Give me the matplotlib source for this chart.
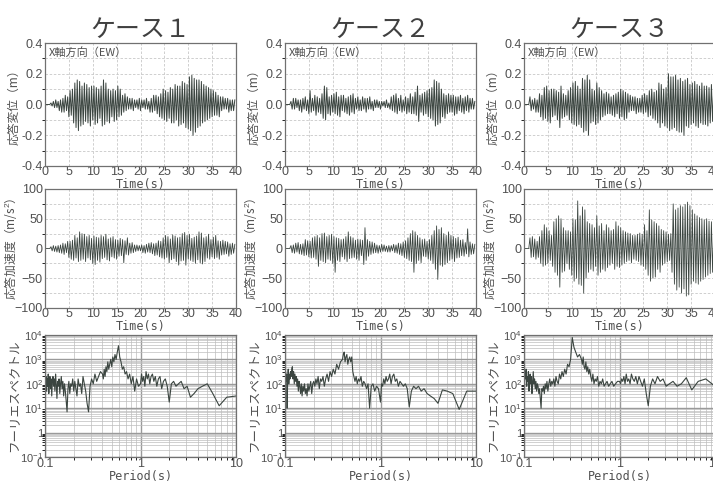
import numpy as np
import matplotlib
matplotlib.use("Agg")
import matplotlib.pyplot as plt
from matplotlib.ticker import MultipleLocator, LogLocator, NullFormatter

plt.rcParams['font.family'] = ['Liberation Sans', 'DejaVu Sans']
plt.rcParams['mathtext.fontset'] = 'custom'
plt.rcParams['mathtext.rm'] = 'Liberation Sans'
plt.rcParams['mathtext.it'] = 'Liberation Sans'
JP = ['Noto Sans CJK JP', 'DejaVu Sans']

# ---- data ----
dt = 0.25  # s, spacing of the read-off peaks

case_titles = ['ケース１', 'ケース２', 'ケース３']

# response displacement, cm
disp1 = [0, 0, 0, 0, 0, 1, -1, 2, -2, 3, -2, 2, -4, 3, -5, 4, -5, 6, -4, 5,
         -8, 9, -7, 10, -12, 14, -15, 16, -17, 15, -14, 12, -13, 14, -11, 13, -12, 11, -14, 12,
         -10, 12, -13, 11, -12, 10, -9, 12, -14, 16, -13, 14, -11, 10, -12, 9, -8, 10, -11, 9,
         -10, 12, -8, 10, -7, 6, -5, 7, -4, 5, -3, 4, -3, 4, -4, 3, -2, 3, -3, 4,
         -4, 3, -2, 3, -3, 4, -3, 2, -5, 4, -5, 6, -4, 6, -6, 5, -8, 7, -9, 10,
         -10, 9, -11, 8, -9, 11, -12, 10, -12, 13, -10, 12, -14, 12, -13, 15, -12, 14, -15, 13,
         -16, 18, -17, 19, -20, 17, -18, 16, -15, 16, -14, 15, -12, 13, -11, 12, -10, 11, -9, 10,
         -8, 9, -7, 8, -7, 6, -8, 5, -4, 5, -3, 4, -3, 4, -5, 3, -4, 3, -4, 3]
disp2 = [0, 0, 0, 0, 0, 2, -3, 4, -3, 4, -2, 3, -4, 3, -5, 4, -3, 5, -4, 3,
         -6, 9, -5, 4, -4, 6, -7, 5, -5, 4, -6, 7, -9, 12, -10, 11, -6, 5, -7, 6,
         -5, 7, -6, 8, -7, 5, -8, 6, -4, 6, -5, 4, -6, 5, -7, 6, -5, 7, -6, 4,
         -3, 5, -4, 3, -4, 5, -3, 4, -5, 4, -3, 5, -3, 2, -4, 3, -2, 3, -2, 2,
         -3, 2, -1, 2, -2, 3, -2, 1, -3, 5, -4, 6, -5, 7, -6, 4, -4, 6, -5, 3,
         -4, 5, -6, 4, -5, 7, -6, 5, -6, 8, -7, 12, -11, 6, -5, 7, -7, 8, -6, 9,
         -8, 10, -9, 11, -10, 16, -14, 15, -13, 14, -12, 10, -8, 7, -9, 6, -6, 7, -5, 6,
         -5, 6, -7, 5, -6, 5, -4, 6, -5, 4, -6, 5, -4, 6, -5, 4, -3, 4, -3, 2]
disp3 = [0, 0, 0, 0, 0, 5, -4, 3, -3, 4, -5, 3, -5, 7, -8, 6, -10, 11, -9, 12,
         -11, 9, -12, 10, -8, 10, -7, 9, -10, 8, -15, 12, -9, 7, -8, 6, -7, 9, -10, 11,
         -12, 14, -13, 15, -14, 12, -13, 10, -15, 17, -18, 16, -17, 19, -20, 16, -12, 10, -11, 9,
         -13, 14, -12, 11, -10, 9, -8, 7, -7, 8, -6, 7, -6, 5, -7, 6, -8, 7, -6, 8,
         -9, 10, -8, 9, -10, 8, -9, 7, -5, 6, -4, 5, -4, 5, -6, 4, -5, 4, -5, 6,
         -6, 7, -5, 6, -8, 9, -7, 10, -9, 8, -10, 9, -12, 14, -15, 13, -12, 10, -14, 11,
         -15, 20, -17, 18, -16, 18, -15, 19, -17, 16, -18, 17, -18, 15, -20, 16, -14, 17, -15, 13,
         -13, 14, -12, 15, -14, 13, -15, 12, -12, 14, -13, 12, -13, 12, -14, 11, -12, 13, -11, 12]

# response acceleration, m/s2
acc1 = [0, 0, 0, 0, 0, 3, -4, 5, -5, 4, -6, 5, -7, 6, -8, 9, -10, 8, -7, 12,
        -15, 12, -18, 14, -20, 22, -16, 18, -22, 28, -20, 25, -18, 24, -22, 20, -16, 22, -19, 17,
        -25, 21, -27, 19, -20, 18, -23, 22, -17, 20, -15, 24, -19, 16, -21, 18, -14, 20, -16, 15,
        -18, 14, -13, 17, -12, 15, -24, 13, -10, 18, -11, 9, -8, 10, -7, 6, -5, 6, -4, 5,
        -4, 6, -7, 5, -8, 7, -6, 9, -7, 10, -9, 8, -12, 9, -11, 13, -14, 12, -16, 18,
        -18, 22, -15, 20, -24, 16, -19, 23, -17, 21, -22, 18, -28, 19, -21, 25, -20, 27, -28, 22,
        -18, 24, -20, 17, -22, 19, -25, 21, -19, 28, -24, 26, -26, 18, -22, 20, -16, 24, -18, 15,
        -14, 19, -17, 22, -15, 13, -18, 12, -11, 14, -10, 12, -9, 11, -13, 8, -10, 9, -8, 7]
acc2 = [0, 0, 0, 0, 0, 5, -7, 6, -8, 9, -6, 10, -9, 7, -10, 8, -12, 15, -11, 13,
        -14, 12, -16, 18, -15, 20, -18, 22, -30, 18, -20, 25, -22, 26, -24, 20, -18, 22, -20, 24,
        -25, 20, -40, 18, -20, 17, -22, 15, -14, 16, -18, 20, -22, 28, -17, 20, -16, 18, -15, 14,
        -18, 16, -20, 15, -12, 14, -27, 35, -20, 15, -13, 12, -10, 11, -8, 9, -7, 6, -8, 5,
        -6, 7, -5, 6, -5, 4, -6, 5, -6, 5, -4, 7, -7, 6, -8, 9, -10, 8, -12, 11,
        -15, 13, -17, 18, -20, 25, -22, 30, -40, 28, -25, 22, -20, 18, -24, 15, -13, 16, -14, 12,
        -18, 15, -20, 22, -25, 30, -35, 38, -52, 32, -28, 35, -30, 25, -27, 22, -24, 28, -20, 22,
        -18, 20, -22, 17, -16, 19, -15, 14, -12, 15, -13, 10, -9, 33, -14, 11, -10, 8, -9, 7]
acc3 = [0, 0, 0, 0, 0, 18, -15, 20, -14, 16, -18, 12, -15, 20, -25, 30, -30, 40, -28, 35,
        -25, 30, -20, 22, -30, 45, -40, 50, -45, 55, -65, 50, -40, 35, -38, 30, -25, 30, -35, 28,
        -45, 50, -55, 48, -50, 80, -60, 55, -62, 70, -75, 65, -50, 45, -40, 42, -35, 40, -38, 35,
        -30, 55, -45, 38, -40, 42, -35, 30, -38, 40, -32, 35, -28, 30, -25, 32, -35, 45, -30, 38,
        -32, 35, -28, 30, -25, 28, -22, 26, -20, 25, -24, 22, -18, 22, -20, 24, -22, 26, -28, 24,
        -30, 40, -35, 30, -45, 65, -55, 48, -50, 45, -48, 42, -35, 38, -40, 32, -28, 30, -25, 28,
        -22, 24, -20, 25, -40, 75, -60, 65, -70, 68, -65, 72, -75, 70, -68, 74, -80, 78, -78, 72,
        -60, 65, -55, 58, -58, 55, -60, 52, -55, 50, -52, 48, -48, 50, -45, 46, -42, 45, -40, 38]

# Fourier spectrum, log10 amplitude at periods 40/k (k = 400..105 by 5, 100..42 by 2, 40..4)
k_bins = np.concatenate([np.arange(400, 104, -5), np.arange(100, 41, -2), np.arange(40, 3, -1)])
spec1_log = [2.6, 2.0, 2.3, 1.7, 2.2, 1.9, 2.4, 1.6, 2.1, 2.3,
             1.8, 2.2, 1.5, 2.1, 2.3, 1.9, 2.2, 1.7, 2.4, 2.0,
             1.4, 2.1, 1.9, 2.2, 1.6, 2.0, 2.3, 1.8, 2.1, 1.5,
             2.0, 1.7, 1.3, 0.85, 1.8, 2.1, 1.6, 2.0, 1.9, 2.2,
             1.7, 2.1, 1.8, 1.5, 2.2, 1.9, 2.0, 1.6, 2.3, 2.0,
             1.7, 1.2, 0.85, 1.9, 2.2, 2.0, 2.4, 2.1, 2.3, 2.5,
             2.4, 2.2, 2.6, 2.3, 2.7, 2.5, 2.9, 2.6, 2.8, 3.0,
             2.7, 3.1, 2.9, 3.2, 3.0, 3.3, 3.56, 3.1, 2.9, 2.6,
             2.7, 2.4, 2.5, 2.2, 2.4, 2.0, 2.3, 1.7, 2.2, 1.9,
             2.0, 2.4, 2.1, 2.3, 1.9, 2.5, 2.2, 2.4, 2.0, 2.3,
             2.4, 2.1, 2.3, 1.9, 2.2, 2.3, 1.8, 2.1, 2.2, 1.9,
             1.25, 2.0, 2.1, 1.9, 2.0, 2.1, 1.8, 1.9, 1.45, 1.6,
             1.8, 1.9, 2.0, 1.6, 1.1, 1.45, 1.5]
spec2_log = [2.3, 2.5, 2.1, 2.4, 1.0, 2.2, 2.6, 2.0, 2.4, 2.2,
             2.5, 2.3, 2.6, 2.7, 2.2, 2.5, 2.0, 2.4, 2.1, 2.3,
             1.9, 2.2, 1.7, 2.1, 1.9, 1.6, 2.0, 1.5, 1.9, 1.7,
             2.0, 1.6, 1.8, 1.5, 2.0, 1.7, 1.9, 2.1, 1.6, 2.0,
             2.1, 1.9, 2.2, 2.0, 2.3, 1.8, 2.2, 2.1, 2.3, 1.9,
             2.2, 2.4, 2.1, 2.5, 2.3, 2.6, 2.4, 2.8, 2.6, 2.9,
             3.0, 3.2, 3.3, 2.9, 3.1, 3.2, 2.8, 3.0, 3.1, 2.9,
             3.1, 2.5, 2.3, 2.1, 2.3, 2.0, 2.2, 2.1, 2.3, 1.9,
             2.1, 2.0, 1.8, 2.0, 1.0, 1.9, 2.0, 1.7, 1.9, 1.8,
             1.25, 2.0, 1.9, 2.2, 2.0, 2.3, 2.1, 2.2, 2.4, 2.0,
             2.3, 2.4, 2.1, 2.2, 1.9, 2.1, 2.0, 1.9, 2.0, 1.8,
             1.05, 1.7, 1.9, 1.8, 1.9, 1.7, 1.8, 1.6, 1.5, 1.4,
             1.2, 1.75, 1.7, 1.6, 0.95, 1.7, 1.7]
spec3_log = [2.4, 2.0, 2.5, 2.2, 2.6, 1.9, 2.3, 2.1, 2.5, 1.7,
             2.2, 2.4, 2.0, 2.3, 1.6, 2.1, 2.5, 2.0, 2.2, 1.8,
             2.1, 1.7, 2.0, 1.9, 1.6, 1.8, 1.4, 1.0, 1.8, 1.7,
             1.9, 1.6, 2.0, 1.8, 2.1, 1.7, 2.0, 2.2, 1.9, 2.1,
             2.0, 2.2, 1.9, 2.3, 2.1, 2.0, 2.4, 2.2, 2.5, 2.3,
             2.6, 2.4, 2.8, 2.7, 3.0, 3.9, 3.5, 3.3, 3.1, 3.2,
             3.0, 2.8, 3.1, 2.7, 2.6, 2.9, 2.5, 2.7, 2.4, 2.6,
             2.3, 2.1, 2.4, 2.0, 2.2, 2.1, 2.3, 1.9, 2.1, 2.0,
             2.2, 1.9, 2.0, 2.1, 1.9, 2.0, 2.1, 1.9, 2.0, 2.1,
             2.1, 2.0, 2.2, 2.1, 2.3, 2.0, 2.4, 2.1, 2.2, 2.0,
             2.4, 2.2, 2.1, 2.3, 2.0, 2.3, 2.1, 1.9, 2.2, 1.6,
             1.1, 1.9, 2.2, 2.0, 2.3, 2.1, 2.2, 1.9, 2.0, 2.1,
             1.9, 2.0, 2.25, 1.75, 2.1, 2.2, 1.9]

disps = [disp1, disp2, disp3]
accs = [acc1, acc2, acc3]
specs = [spec1_log, spec2_log, spec3_log]

# ---- layout in pixels of the 713x482 scan ----
W, H = 713, 482
col_left = [45, 285, 524]
ax_w = 191
rows = [(43, 123), (189, 119), (335, 122)]  # (top, height)
ylab_x = -25 / ax_w  # right edge of the y labels, about 25 px left of each axes

LINE = '#3b4540'
TXT = '#505050'


def make_ax(fig, col, row):
    top, h = rows[row]
    return fig.add_axes([col_left[col] / W, 1 - (top + h) / H, ax_w / W, h / H])


def style(ax):
    for s in ax.spines.values():
        s.set_color('#707070')
        s.set_linewidth(0.9)
    ax.tick_params(length=0, pad=1.5, labelsize=9, colors=TXT)
    ax.yaxis.set_label_coords(ylab_x, 0.5)


fig = plt.figure(figsize=(W / 100, H / 100), dpi=100)
fig.patch.set_facecolor('white')

for c in range(3):
    # displacement
    ax = make_ax(fig, c, 0)
    d = np.array(disps[c]) / 100.0
    t = np.arange(len(d)) * dt
    ax.plot(t, d, color=LINE, lw=0.7)
    ax.set_xlim(0, 40)
    ax.set_ylim(-0.4, 0.4)
    ax.xaxis.set_major_locator(MultipleLocator(5))
    ax.yaxis.set_major_locator(MultipleLocator(0.2))
    ax.yaxis.set_minor_locator(MultipleLocator(0.1))
    ax.yaxis.set_major_formatter(lambda v, p: f'{v:.1f}')
    ax.grid(True, which='both', color='#c8c8c8', lw=0.6, ls=(0, (3, 2)))
    style(ax)
    ax.tick_params(axis='x', pad=0)
    ax.text(0.02, 0.97, 'X軸方向（EW）', transform=ax.transAxes, ha='left', va='top',
            fontsize=8, color=TXT, family=JP)
    ax.set_ylabel('応答変位（m）', family=JP, fontsize=8.5, color=TXT)
    ax.set_xlabel('Time(s)', family='DejaVu Sans Mono', fontsize=8.5, color=TXT, labelpad=0)
    ax.set_title(case_titles[c], family=JP, fontsize=18, color='#404040', pad=3)

    # acceleration
    ax = make_ax(fig, c, 1)
    a = np.array(accs[c], dtype=float)
    t = np.arange(len(a)) * dt
    ax.plot(t, a, color=LINE, lw=0.6)
    ax.set_xlim(0, 40)
    ax.set_ylim(-100, 100)
    ax.xaxis.set_major_locator(MultipleLocator(5))
    ax.yaxis.set_major_locator(MultipleLocator(50))
    ax.yaxis.set_minor_locator(MultipleLocator(25))
    ax.grid(True, which='both', color='#c8c8c8', lw=0.6, ls=(0, (3, 2)))
    style(ax)
    ax.tick_params(axis='x', pad=0)
    ax.set_ylabel('応答加速度（m/s$^2$）', family=JP, fontsize=8.5, color=TXT)
    ax.set_xlabel('Time(s)', family='DejaVu Sans Mono', fontsize=8.5, color=TXT, labelpad=0)

    # Fourier spectrum
    ax = make_ax(fig, c, 2)
    period = 40.0 / k_bins
    amp = 10 ** np.array(specs[c])
    ax.plot(period, amp, color=LINE, lw=0.8)
    ax.set_xscale('log')
    ax.set_yscale('log')
    ax.set_xlim(0.1, 10)
    ax.set_ylim(0.1, 1e4)
    ax.xaxis.set_minor_locator(LogLocator(10, subs=np.arange(2, 10)))
    ax.yaxis.set_minor_locator(LogLocator(10, subs=np.arange(2, 10)))
    ax.xaxis.set_minor_formatter(NullFormatter())
    ax.yaxis.set_minor_formatter(NullFormatter())
    ax.set_xticks([0.1, 1, 10])
    ax.set_xticklabels(['0.1', '1', '10'])
    ax.set_yticks([0.1, 1, 10, 100, 1000, 10000])
    ax.set_yticklabels(['$10^{-1}$', '1', '$10^{1}$', '$10^{2}$', '$10^{3}$', '$10^{4}$'])
    ax.grid(True, which='minor', color='#bdbdbd', lw=0.5)
    ax.grid(True, which='major', color='#9a9a9a', lw=1.0)
    style(ax)
    ax.tick_params(axis='y', labelsize=8)
    ax.tick_params(axis='x', pad=1)
    ax.set_ylabel('フーリエスペクトル', family=JP, fontsize=9, color=TXT)
    ax.set_xlabel('Period(s)', family='DejaVu Sans Mono', fontsize=8.5, color=TXT, labelpad=0)

fig.savefig('out.png', dpi=100, facecolor='white')
